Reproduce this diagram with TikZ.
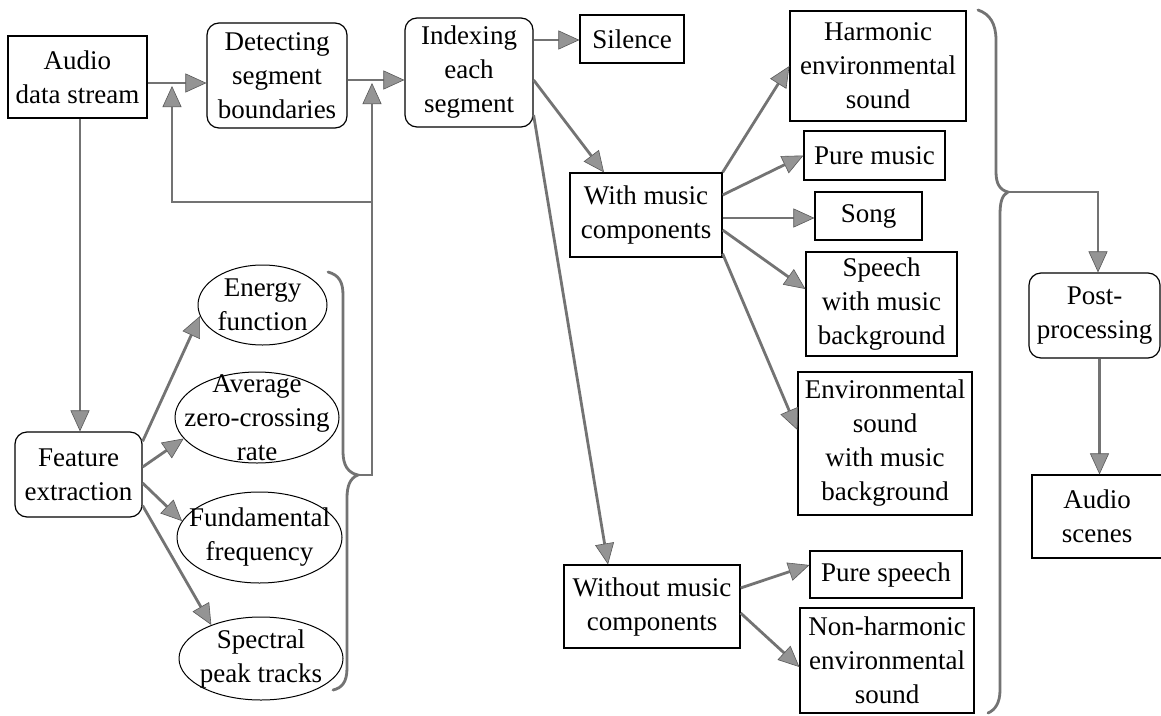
\documentclass[tikz,border=0pt]{standalone}
\usepackage{fontspec}
\setmainfont{Liberation Serif}
\usetikzlibrary{arrows.meta,shapes.geometric,calc}
\begin{document}
\begin{tikzpicture}[x=1pt,y=-1pt,
  lbl/.style={inner sep=0pt, align=center, font=\fontsize{27}{34}\selectfont},
  box/.style={lbl, draw=black, line width=1.2pt, rectangle},
  rbox/.style={box, rounded corners=12pt},
  ell/.style={draw=black, ellipse, line width=1pt, inner sep=0pt},
  arr/.style={draw=black!55, line width=2.8pt,
    -{Triangle[length=21pt,width=19pt,line width=0.6pt,color=black!65,fill=black!42]}},
  brace/.style={draw=black!55, line width=2.8pt, line cap=round}
]
\fill[white] (0,0) rectangle (1161,715);
\useasboundingbox (0,0) rectangle (1161,715);

% top row
\node[box, minimum width=139pt, minimum height=82pt] (audio) at (77.5,77) {Audio\\data stream};
\node[rbox, minimum width=140pt, minimum height=105pt] (detect) at (277,75.5) {Detecting\\segment\\boundaries};
\node[rbox, minimum width=128pt, minimum height=109pt] (index) at (469,72.5) {Indexing\\each\\segment};
\node[box, minimum width=104pt, minimum height=48pt] (silence) at (632,39) {Silence};

% feature extraction
\node[rbox, minimum width=127pt, minimum height=85pt] (feature) at (78.5,474.5) {Feature\\extraction};
\node[ell, minimum width=129pt, minimum height=80pt] (energy) at (262.5,305) {};
\node[lbl] (energyt) at (energy) {Energy\\function};
\node[ell, minimum width=164pt, minimum height=91pt] (average) at (257,417.5) {};
\node[lbl] (averaget) at (average) {Average\\zero-crossing\\rate};
\node[ell, minimum width=165pt, minimum height=91pt] (fund) at (259.5,537.5) {};
\node[lbl] (fundt) at (fund) {Fundamental\\frequency};
\node[ell, minimum width=164pt, minimum height=83pt] (spectral) at (261,658.5) {};
\node[lbl] (spectralt) at (spectral) {Spectral\\peak tracks};

% classification
\node[box, minimum width=152pt, minimum height=84pt] (withm) at (646,215) {With music\\components};
\node[box, minimum width=176pt, minimum height=83pt] (without) at (652,606.5) {Without music\\components};
\node[box, minimum width=176pt, minimum height=110pt] (harm) at (878,66) {Harmonic\\environmental\\sound};
\node[box, minimum width=141pt, minimum height=49pt] (puremusic) at (874.5,155.5) {Pure music};
\node[box, minimum width=107pt, minimum height=48pt] (song) at (868.5,216) {Song};
\node[box, minimum width=151pt, minimum height=104pt] (speech) at (881.5,304) {Speech\\with music\\background};
\node[box, minimum width=174pt, minimum height=143pt] (env) at (885,443.5) {Environmental\\sound\\with music\\background};
\node[box, minimum width=152pt, minimum height=47pt] (purespeech) at (886,574.5) {Pure speech};
\node[box, minimum width=174pt, minimum height=105pt] (nonharm) at (887,660.5) {Non-harmonic\\environmental\\sound};

% post
\node[rbox, minimum width=131pt, minimum height=85pt] (post) at (1094.5,315.5) {Post-\\processing};
\node[box, minimum width=130pt, minimum height=83pt] (scenes) at (1097,516.5) {Audio\\scenes};

% coordinates
\coordinate (bc1) at (358,475);
\coordinate (tipR) at (372,83);
\coordinate (jR) at (372,202);
\coordinate (tipL) at (172,86);
\coordinate (bc2) at (1008,192);

% top arrows
\draw[arr] ([yshift=-6pt]audio.east) -- ([yshift=-6pt]audio.east -| detect.west);
\draw[arr] ([yshift=-4.5pt]detect.east) -- ([yshift=-4.5pt]detect.east -| index.west);
\draw[arr] ([xshift=2.5pt]audio.south) -- ([xshift=2.5pt]audio.south |- feature.north);

% feature arrows
\draw[arr] ([yshift=-10pt]feature.north east) -- (energy.190);
\draw[arr] ([yshift=7.5pt]feature.east) -- (average.196);
\draw[arr] ([yshift=-8.5pt]feature.east) -- (fund.168);
\draw[arr] ([yshift=12pt]feature.south east) -- (spectral.146);

% left brace and feedback
\draw[brace] (328,272) .. controls (339,275) and (343,282) .. (343,295) -- (343,452)
  .. controls (343,465) and (348,473) .. (bc1) .. controls (350,478) and (347,486) .. (347,498)
  -- (347,668) .. controls (347,682) and (342,688) .. (333,690);
\draw[arr] (bc1) -| (tipR);
\draw[arr] (jR) -| (tipL);

% indexing arrows
\draw[arr] ([yshift=32.5pt]index.east) -- ([yshift=32.5pt]index.east -| silence.west);
\draw[arr] ([yshift=-7.5pt]index.east) -- ([xshift=-42pt]withm.north);
\draw[arr] ([yshift=-42.5pt]index.east) -- ([xshift=-44pt]without.north);

% with music arrows
\draw[arr] (withm.north east) -- (harm.west);
\draw[arr] ([yshift=20pt]withm.east) -- (puremusic.west);
\draw[arr] ([yshift=-3pt]withm.east) -- ([yshift=-3pt]withm.east -| song.west);
\draw[arr] ([yshift=-15pt]withm.east) -- ([yshift=15pt]speech.west);
\draw[arr] ([yshift=4pt]withm.south east) -- ([yshift=13.5pt]env.west);

% without music arrows
\draw[arr] ([yshift=18.5pt]without.east) -- ([yshift=9.5pt]purespeech.west);
\draw[arr] ([yshift=-6.5pt]without.east) -- ([yshift=-6.5pt]nonharm.west);

% right brace
\draw[brace] (978,10) .. controls (990,14) and (996,24) .. (996,40) -- (996,172)
  .. controls (996,184) and (1000,190) .. (bc2) .. controls (1002,195) and (1000,202) .. (1000,215)
  -- (1000,690) .. controls (1000,703) and (995,710) .. (988,713);
\draw[arr] (bc2) -| ([xshift=3.5pt]post.north);
\draw[arr] ([xshift=5pt]post.south) -- ([xshift=5pt]post.south |- scenes.north);
\end{tikzpicture}
\end{document}
